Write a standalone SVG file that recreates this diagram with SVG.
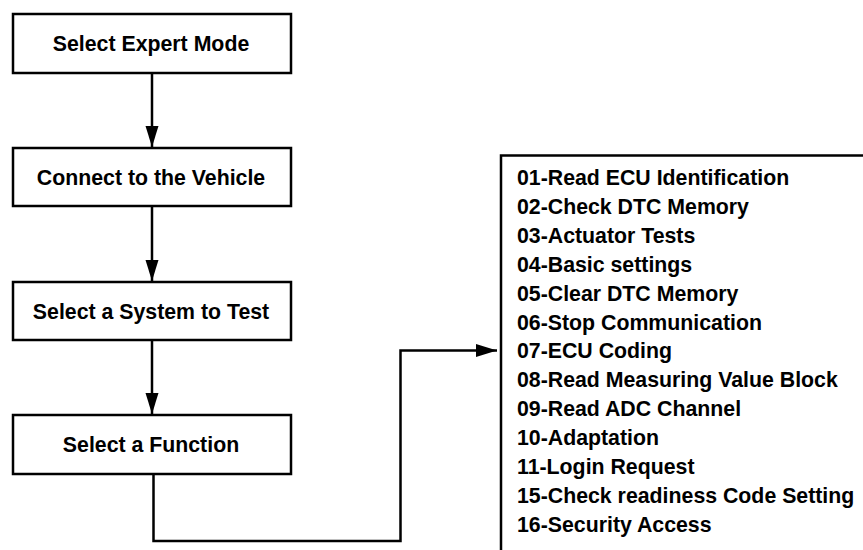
<svg xmlns="http://www.w3.org/2000/svg" width="863" height="550" viewBox="0 0 863 550">
<style>
.box{fill:#fff;stroke:#000;stroke-width:2.5}
.lbl{font-family:"Liberation Sans",Arial,sans-serif;font-weight:bold;font-size:21.3px;fill:#000}
.mid{text-anchor:middle}
.con{fill:none;stroke:#000;stroke-width:2.5}
</style>
<defs>
<marker id="ah" markerUnits="userSpaceOnUse" markerWidth="22" markerHeight="14" refX="21" refY="6.5" orient="auto">
<path d="M0,0 L21,6.5 L0,13 Z" fill="#000"/>
</marker>
</defs>
<rect width="863" height="550" fill="#fff"/>
<g id="connectors">
<line class="con" x1="152" y1="73" x2="152" y2="147" marker-end="url(#ah)"/>
<line class="con" x1="152" y1="206" x2="152" y2="281" marker-end="url(#ah)"/>
<line class="con" x1="152" y1="340" x2="152" y2="414" marker-end="url(#ah)"/>
<polyline class="con" points="153.5,474 153.5,541 400.5,541 400.5,350.5 497,350.5" marker-end="url(#ah)"/>
</g>
<g id="n1">
<rect class="box" x="13" y="14" width="278" height="59"/>
<text class="lbl mid" x="151" y="51">Select Expert Mode</text>
</g>
<g id="n2">
<rect class="box" x="13" y="148" width="278" height="58"/>
<text class="lbl mid" x="151" y="184.5">Connect to the Vehicle</text>
</g>
<g id="n3">
<rect class="box" x="13" y="282" width="278" height="58"/>
<text class="lbl mid" x="151" y="318.5">Select a System to Test</text>
</g>
<g id="n4">
<rect class="box" x="13" y="415" width="278" height="59"/>
<text class="lbl mid" x="151" y="452">Select a Function</text>
</g>
<g id="n5">
<rect class="box" x="501" y="155.5" width="380" height="420"/>
<text class="lbl" x="517">
<tspan x="517" y="185">01-Read ECU Identification</tspan>
<tspan x="517" y="214">02-Check DTC Memory</tspan>
<tspan x="517" y="243">03-Actuator Tests</tspan>
<tspan x="517" y="272">04-Basic settings</tspan>
<tspan x="517" y="301">05-Clear DTC Memory</tspan>
<tspan x="517" y="330">06-Stop Communication</tspan>
<tspan x="517" y="358">07-ECU Coding</tspan>
<tspan x="517" y="387">08-Read Measuring Value Block</tspan>
<tspan x="517" y="416">09-Read ADC Channel</tspan>
<tspan x="517" y="445">10-Adaptation</tspan>
<tspan x="517" y="474">11-Login Request</tspan>
<tspan x="517" y="503">15-Check readiness Code Setting</tspan>
<tspan x="517" y="532">16-Security Access</tspan>
</text>
</g>
</svg>
